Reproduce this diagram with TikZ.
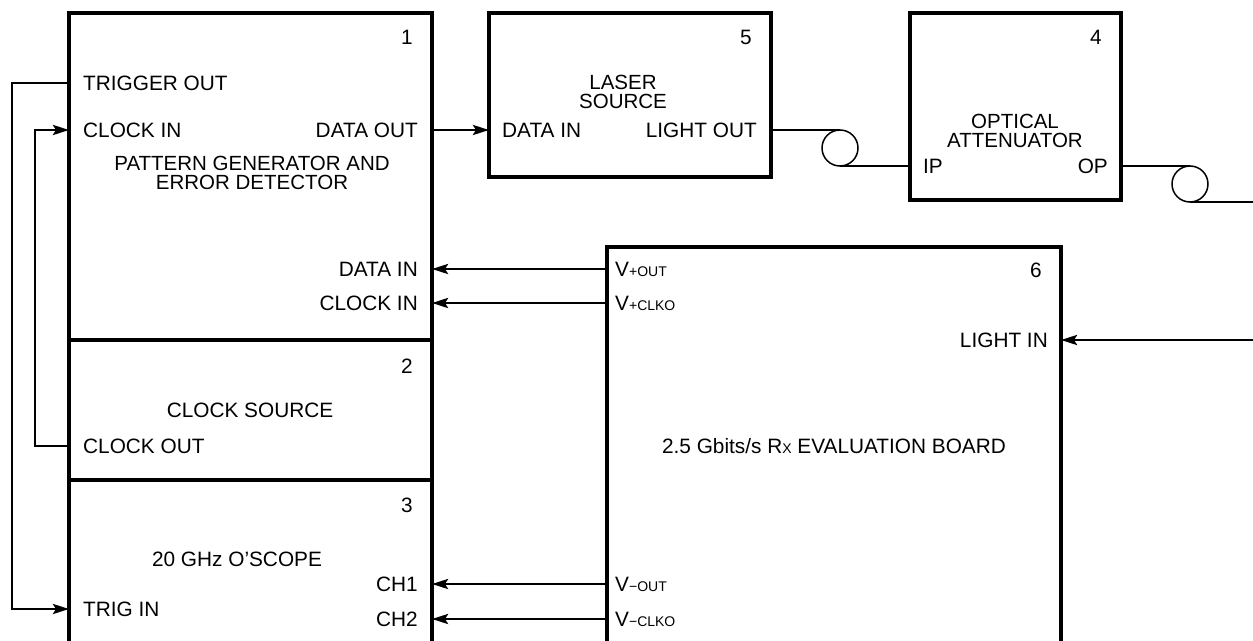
\documentclass[tikz,border=0pt]{standalone}
\usepackage{fontspec}
\setmainfont{Liberation Sans}
\usetikzlibrary{arrows.meta}
\usetikzlibrary{positioning}

\begin{document}
\begin{tikzpicture}[x=1pt, y=-1pt,
    unit/.style={rectangle, draw=black, line width=4.5pt, anchor=north west, inner sep=0pt, outer sep=0pt},
    txt/.style={font=\fontsize{20.8}{20}\selectfont, inner sep=0pt, text depth=0pt},
    twoline/.style={txt, align=center, font=\fontsize{20.5}{19.5}\selectfont},
    sig/.style={line width=2.8pt, -{Stealth[length=16pt, width=10pt, inset=3pt]}},
    fibre/.style={line width=2.2pt}]
    \clip (0,0) rectangle (1253,640);

    % the units
    \node [unit, minimum width=363pt, minimum height=327pt] (patternGen) at (69,13) {};
    \node [unit, minimum width=363pt, minimum height=140pt] (clockSrc) at (69,340) {};
    \node [unit, minimum width=363pt, minimum height=180pt] (oscope) at (69,480) {};
    \node [unit, minimum width=282pt, minimum height=164pt] (laserSrc) at (489,13) {};
    \node [unit, minimum width=211pt, minimum height=187pt] (attenuator) at (910,13) {};
    \node [unit, minimum width=454pt, minimum height=413pt] (evalBoard) at (607,247) {};

    % unit numbers
    \node [txt, anchor=east] (numOne) at (413,37) {1};
    \node [txt, anchor=east] (numTwo) at (413,366) {2};
    \node [txt, anchor=east] (numThree) at (413,505) {3};
    \node [txt, anchor=east] (numFour) at (1102,37) {4};
    \node [txt, anchor=east] (numFive) at (752,37) {5};
    \node [txt, anchor=east] (numSix) at (1042,270) {6};

    % pattern generator
    \node [txt, anchor=west] (trigOut) at (83,83) {TRIGGER OUT};
    \node [txt, anchor=west] (genClkIn) at (83,130) {CLOCK IN};
    \node [txt, anchor=east] (dataOut) at (418,130) {DATA OUT};
    \node [twoline] (genName) at (252,173) {PATTERN GENERATOR AND\\ERROR DETECTOR};
    \node [txt, anchor=east] (genDataIn) at (418,269) {DATA IN};
    \node [txt, anchor=east] (genClkIn2) at (418,303) {CLOCK IN};

    % clock source
    \node [txt] (clkName) at (250,410) {CLOCK SOURCE};
    \node [txt, anchor=west] (clkOut) at (83,446) {CLOCK OUT};

    % scope
    \node [txt] (scopeName) at (237,559) {20 GHz O’SCOPE};
    \node [txt, anchor=west] (trigIn) at (83,609) {TRIG IN};
    \node [txt, anchor=east] (chOne) at (418,584) {CH1};
    \node [txt, anchor=east] (chTwo) at (418,619) {CH2};

    % laser source
    \node [twoline] (laserName) at (623,92) {LASER\\SOURCE};
    \node [txt, anchor=west] (laserDataIn) at (502,130) {DATA IN};
    \node [txt, anchor=east] (lightOut) at (757,130) {LIGHT OUT};

    % attenuator
    \node [twoline] (attName) at (1015,131) {OPTICAL\\ATTENUATOR};
    \node [txt, anchor=west] (ipIn) at (923,166) {IP};
    \node [txt, anchor=east] (opOut) at (1108,166) {OP};

    % evaluation board
    \node [txt, anchor=west] (vpOut) at (615,269) {V{\fontsize{14}{14}\selectfont +OUT}};
    \node [txt, anchor=west] (vpClk) at (615,303) {V{\fontsize{14}{14}\selectfont +CLKO}};
    \node [txt, anchor=east] (lightIn) at (1048,340) {LIGHT IN};
    \node [txt] (boardName) at (834,446) {2.5 Gbits/s R{\fontsize{14}{14}\selectfont X} EVALUATION BOARD};
    \node [txt, anchor=west] (vmOut) at (615,584) {V{\fontsize{14}{14}\selectfont −OUT}};
    \node [txt, anchor=west] (vmClk) at (615,619) {V{\fontsize{14}{14}\selectfont −CLKO}};

    % electrical connections
    \draw [sig] (patternGen.west |- trigOut) -- ++(-57,0) |- (oscope.west |- trigIn);
    \draw [sig] (clockSrc.west |- clkOut) -- ++(-34,0) |- (patternGen.west |- genClkIn);
    \draw [sig] (patternGen.east |- dataOut) -- (laserSrc.west |- dataOut);
    \draw [sig] (evalBoard.west |- vpOut) -- (patternGen.east |- vpOut);
    \draw [sig] (evalBoard.west |- vpClk) -- (patternGen.east |- vpClk);
    \draw [sig] (evalBoard.west |- vmOut) -- (oscope.east |- vmOut);
    \draw [sig] (evalBoard.west |- vmClk) -- (oscope.east |- vmClk);
    \coordinate (fibreEnd) at (1253,340);
    \draw [sig] (fibreEnd) -- (evalBoard.east |- lightIn);

    % optical fibres
    \coordinate (loopA) at (840,148);
    \coordinate (loopB) at (1190,184);
    \draw [fibre] (laserSrc.east |- lightOut) -- (loopA |- lightOut);
    \draw [line width=1.5pt] (loopA) circle (18);
    \draw [fibre] (loopA |- ipIn) -- (attenuator.west |- ipIn);
    \draw [fibre] (attenuator.east |- opOut) -- ++(69,0);
    \draw [line width=1.5pt] (loopB) circle (18);
    \draw [fibre] (loopB) ++(0,18) -- ++(63,0);
\end{tikzpicture}
\end{document}
